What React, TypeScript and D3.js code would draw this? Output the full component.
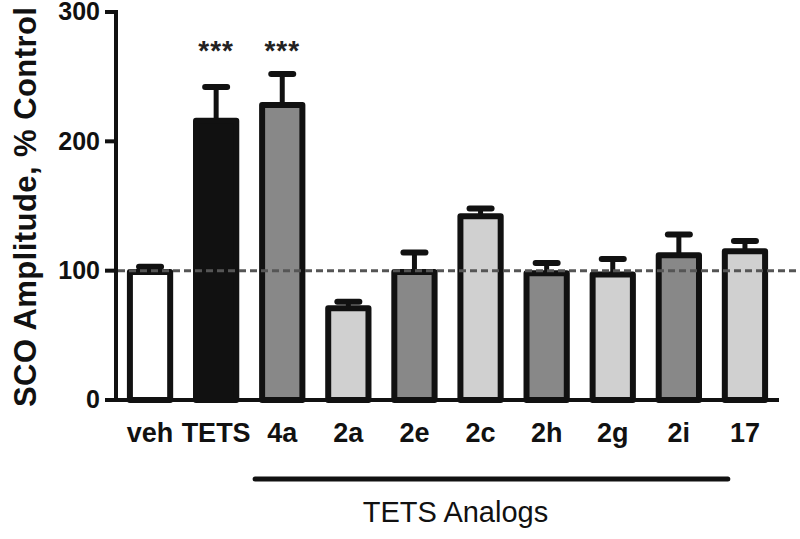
import React from "react";
import * as d3 from "d3";

const categories = ["veh", "TETS", "4a", "2a", "2e", "2c", "2h", "2g", "2i", "17"];
const means = [99, 216, 228, 71, 99, 142, 98, 97, 112, 115];
const sems = [4, 26, 24, 5, 15, 6, 8, 12, 16, 8];
const fills = ["#ffffff", "#111111", "#888888", "#d0d0d0", "#888888", "#d0d0d0", "#888888", "#d0d0d0", "#888888", "#d0d0d0"];
const significance = ["", "***", "***", "", "", "", "", "", "", ""];
const yTicks = [0, 100, 200, 300];
const groupLabel = "TETS Analogs";
const groupMembers = ["4a", "17"];
const yTitle = "SCO Amplitude, % Control";

const W = 800, H = 539;
const axisX = 116, axisRight = 779, yBottom = 400, yTop = 12;

export default function App() {
  const x = d3.scaleBand<string>().domain(categories).range([axisX, axisRight]).paddingInner(0.3).paddingOuter(0.165);
  const y = d3.scaleLinear().domain([0, 300]).range([yBottom, yTop]);
  const font = "'Liberation Sans', Arial, Helvetica, sans-serif";
  const bw = x.bandwidth();
  const gStart = (x(groupMembers[0]) as number) - 4;
  const gEnd = (x(groupMembers[1]) as number) + 6;
  const labelX = ((x("2e") as number) + (x("2c") as number)) / 2 + bw / 2 + 8;
  return (
    <svg width={W} height={H} style={{ position: "absolute", left: 0, top: 0, background: "#fff" }} fontFamily={font}>
      <text transform={`translate(36, 407) rotate(-90)`} fontSize={31} fontWeight="bold" fill="#111" textLength={400}>{yTitle}</text>
      <line x1={axisX} x2={axisX} y1={y(300) - 2} y2={yBottom + 2} stroke="#111" strokeWidth={4} />
      {yTicks.map((t) => (
        <g key={t}>
          <line x1={axisX - 11} x2={axisX} y1={y(t)} y2={y(t)} stroke="#111" strokeWidth={4} />
          <text x={axisX - 16} y={y(t)} dy="0.33em" textAnchor="end" fontSize={25} fontWeight="bold" fill="#111">{t}</text>
        </g>
      ))}
      {categories.map((c, i) => {
        const x0 = x(c) as number;
        const cx = x0 + bw / 2;
        const top = y(means[i]);
        const errTop = y(means[i] + sems[i]);
        return (
          <g key={c}>
            <line x1={cx} x2={cx} y1={top} y2={errTop} stroke="#111" strokeWidth={5} />
            <line x1={cx - 11} x2={cx + 11} y1={errTop} y2={errTop} stroke="#111" strokeWidth={6} strokeLinecap="round" />
            <rect x={x0 + 3} y={top} width={bw - 6} height={yBottom - top} fill={fills[i]} stroke="#111" strokeWidth={6} strokeLinejoin="round" />
            {significance[i] && (
              <text x={cx} y={60} textAnchor="middle" fontSize={28} fontWeight="bold" fill="#222" letterSpacing={1}>{significance[i]}</text>
            )}
            <text x={cx} y={442} textAnchor="middle" fontSize={27} fontWeight="bold" fill="#111">{c}</text>
          </g>
        );
      })}
      <line x1={axisX - 2} x2={axisRight} y1={yBottom} y2={yBottom} stroke="#111" strokeWidth={4} />
      <line x1={axisX + 2} x2={W} y1={y(100)} y2={y(100)} stroke="#555" strokeWidth={3} strokeDasharray="7,4" />
      <line x1={gStart} x2={gEnd} y1={479} y2={479} stroke="#111" strokeWidth={5} strokeLinecap="round" />
      <text x={labelX} y={522} textAnchor="middle" fontSize={29} fill="#111">{groupLabel}</text>
    </svg>
  );
}
